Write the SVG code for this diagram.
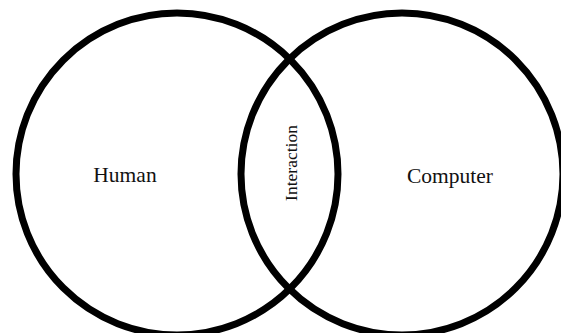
<svg xmlns="http://www.w3.org/2000/svg" width="561" height="333" viewBox="0 0 561 333">
<style>
.c{fill:none;stroke:#000;stroke-width:7}
.t{font-family:"Liberation Serif","Times New Roman",serif;fill:#111;text-anchor:middle}
</style>
<rect width="561" height="333" fill="#fff"/>
<g id="human">
<circle class="c" cx="177" cy="174" r="161"/>
<text class="t" x="125" y="182" font-size="21.5">Human</text>
</g>
<g id="computer">
<circle class="c" cx="402" cy="174" r="161"/>
<text class="t" x="450" y="183" font-size="21.5">Computer</text>
</g>
<g id="interaction">
<text class="t" font-size="17.5" transform="translate(297 163) rotate(-90)">Interaction</text>
</g>
<g id="connectors"/>
</svg>
